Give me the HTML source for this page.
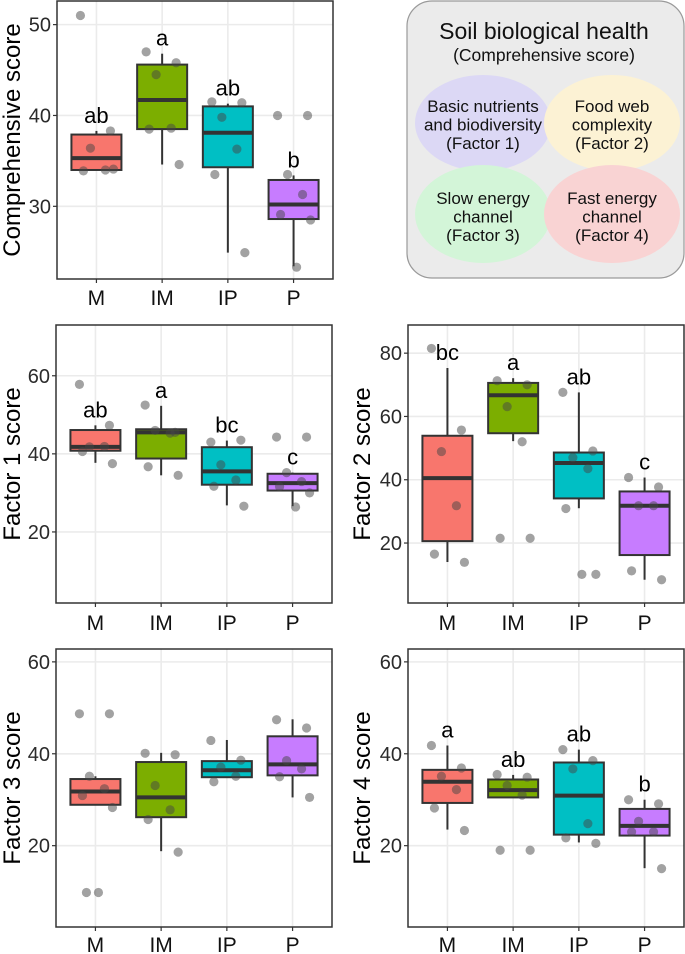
<!DOCTYPE html>
<html><head><meta charset="utf-8">
<style>
html,body{margin:0;padding:0;background:#fff;}
svg{display:block;font-family:"Liberation Sans",sans-serif;}
</style></head>
<body>
<svg id="fig" width="685" height="954" viewBox="0 0 685 954" xmlns="http://www.w3.org/2000/svg">
  <g>
    <rect x="407" y="1" width="277" height="277" rx="25" fill="#ebebeb" stroke="#9a9a9a" stroke-width="1.2"/>
    <text x="544" y="39" font-size="23" text-anchor="middle" fill="#111">Soil biological health</text>
    <text x="544" y="61" font-size="17.5" text-anchor="middle" fill="#111">(Comprehensive score)</text>
    <ellipse cx="483" cy="123" rx="68" ry="48" fill="#dcd8f5"/>
    <ellipse cx="612" cy="123" rx="68" ry="48" fill="#fcf2d4"/>
    <ellipse cx="483" cy="214" rx="68" ry="49" fill="#d3f5d8"/>
    <ellipse cx="612" cy="214" rx="68" ry="49" fill="#f9d3d3"/>
    <g font-size="17" text-anchor="middle" fill="#111">
      <text x="483" y="112"><tspan x="483">Basic nutrients</tspan><tspan x="483" dy="18.5">and biodiversity</tspan><tspan x="483" dy="18.5">(Factor 1)</tspan></text>
      <text x="612" y="112"><tspan x="612">Food web</tspan><tspan x="612" dy="18.5">complexity</tspan><tspan x="612" dy="18.5">(Factor 2)</tspan></text>
      <text x="483" y="204"><tspan x="483">Slow energy</tspan><tspan x="483" dy="18.5">channel</tspan><tspan x="483" dy="18.5">(Factor 3)</tspan></text>
      <text x="612" y="204"><tspan x="612">Fast energy</tspan><tspan x="612" dy="18.5">channel</tspan><tspan x="612" dy="18.5">(Factor 4)</tspan></text>
    </g>
  </g>
</svg>
<script>
const categories = ["M","IM","IP","P"];
const colors = ["#F8766D","#7CAE00","#00BFC4","#C77CFF"];

// Comprehensive score: [lowerWhisker, q1, median, q3, upperWhisker]
const compStats = [[34.0,34.0,35.3,37.9,38.3],[34.6,38.5,41.7,45.6,46.8],[24.9,34.3,38.1,41.0,41.3],[23.4,28.6,30.2,32.9,33.4]];
const compPoints = [[51.0,38.3,36.4,34.0,33.9,34.1],[47.0,45.8,44.5,38.6,38.5,34.6],[41.5,41.4,39.8,36.3,33.5,24.9],[40.0,40.0,33.5,31.3,29.1,28.5,23.3]];
const compLetters = ["ab","a","ab","b"];
const compTicks = [30,40,50];

const f1Stats = [[37.7,40.8,41.8,46.1,47.3],[34.5,38.8,45.5,46.3,52.3],[26.8,32.1,35.5,41.7,43.4],[26.6,30.6,32.5,34.9,35.2]];
const f1Points = [[57.8,47.3,41.8,41.9,40.6,37.5],[52.5,45.5,46.0,45.3,36.7,34.5],[43.0,43.5,37.2,33.3,31.7,26.6],[44.3,44.3,35.2,32.9,31.6,30.0,26.4]];
const f1Letters = ["ab","a","bc","c"];
const f1Ticks = [20,40,60];

const f2Stats = [[14.0,20.6,40.5,53.9,75.3],[52.2,54.7,66.7,70.6,72.1],[31.0,34.1,45.3,48.6,67.6],[8.4,16.2,31.8,36.3,40.7]];
const f2Points = [[81.5,55.7,48.9,31.8,16.5,13.9],[71.3,70.0,63.1,52.0,21.5,21.5],[67.6,49.1,47.0,43.5,30.9,10.1,10.1],[40.7,37.7,31.8,31.8,11.2,8.4]];
const f2Letters = ["bc","a","ab","c"];
const f2Ticks = [20,40,60,80];

const f3Stats = [[28.9,28.9,31.8,34.5,35.1],[18.8,26.2,30.5,38.2,40.2],[34.9,34.9,36.4,38.4,43.0],[30.5,35.3,37.7,43.8,47.5]];
const f3Points = [[48.7,48.7,35.1,32.4,30.9,28.3,9.8,9.8],[40.1,39.8,33.1,27.8,25.7,18.6],[42.9,38.6,37.1,35.1,33.9],[47.4,45.6,38.5,36.7,35.0,30.5]];
const f3Letters = ["","","",""];
const f3Ticks = [20,40,60];

const f4Stats = [[23.5,29.3,33.9,36.5,41.8],[30.5,30.5,32.1,34.4,35.4],[20.7,22.4,30.9,38.1,40.9],[15.1,22.2,24.3,28.0,30.0]];
const f4Points = [[41.8,36.9,35.1,32.2,28.2,23.3],[35.5,34.9,33.1,31.0,19.0,19.0],[40.9,38.5,36.7,24.8,21.7,20.5],[30.0,29.1,25.3,23.0,23.0,15.0]];
const f4Letters = ["a","ab","ab","b"];
const f4Ticks = [20,40,60];

const NS = "http://www.w3.org/2000/svg";
const svg = document.getElementById("fig");
const jit = [-16,14,-6,9,-13,17,3,-9];

function mk(tag, attrs, parent){
  const e = document.createElementNS(NS, tag);
  for (const k in attrs) e.setAttribute(k, attrs[k]);
  parent.appendChild(e);
  return e;
}

function panel(cfg){
  const {id, x0, x1, y0, y1, vmin, vmax, stats, points, letters, ticks, title, titleX, labelY} = cfg;
  const g = mk("g", {}, svg);
  
  
  const yS = v => y1 - (v - vmin) / (vmax - vmin) * (y1 - y0);
  const step = (x1 - x0) / 4.2;
  const xS = i => x0 + step * (0.6 + i);
  mk("rect", {x:x0, y:y0, width:x1-x0, height:y1-y0, fill:"#fff"}, g);
  ticks.forEach(t => {
    const gl = mk("line", {x1:x0, x2:x1, y1:yS(t), y2:yS(t), stroke:"#ebebeb", "stroke-width":1.6}, g);
    
    
    mk("line", {x1:x0-4, x2:x0, y1:yS(t), y2:yS(t), stroke:"#333", "stroke-width":1.2}, g);
    const tl = mk("text", {x:x0-6, y:yS(t)+7, "font-size":20, "text-anchor":"end", fill:"#2b2b2b"}, g);
    tl.textContent = t;
    
    
  });
  categories.forEach((c, i) => {
    const gl = mk("line", {x1:xS(i), x2:xS(i), y1:y0, y2:y1, stroke:"#ebebeb", "stroke-width":1.6}, g);
    
    
    mk("line", {x1:xS(i), x2:xS(i), y1:y1, y2:y1+4, stroke:"#333", "stroke-width":1.2}, g);
    const xl = mk("text", {x:xS(i), y:labelY, "font-size":21, "text-anchor":"middle", fill:"#111"}, g);
    xl.textContent = c;
    
    
  });
  categories.forEach((c, i) => {
    const s = stats[i], cx = xS(i), w = 50;
    const bg = mk("g", {}, g);
    
    
    mk("line", {x1:cx, x2:cx, y1:yS(s[0]), y2:yS(s[1]), stroke:"#333", "stroke-width":2}, bg);
    mk("line", {x1:cx, x2:cx, y1:yS(s[3]), y2:yS(s[4]), stroke:"#333", "stroke-width":2}, bg);
    mk("rect", {x:cx-w/2, y:yS(s[3]), width:w, height:yS(s[1])-yS(s[3]), fill:colors[i], stroke:"#333", "stroke-width":2}, bg);
    mk("line", {x1:cx-w/2, x2:cx+w/2, y1:yS(s[2]), y2:yS(s[2]), stroke:"#333", "stroke-width":4}, bg);
    points[i].forEach((v, j) => {
      const p = mk("circle", {cx:cx + jit[j % jit.length], cy:yS(v), r:4.6, fill:"rgba(70,70,70,0.5)"}, g);
      
      
    });
    if (letters[i]) {
      const lt = mk("text", {x:cx, y:yS(s[4]) - 8, "font-size":22, "text-anchor":"middle", fill:"#000"}, g);
      lt.textContent = letters[i];
      
      
    }
  });
  mk("rect", {x:x0, y:y0, width:x1-x0, height:y1-y0, fill:"none", stroke:"#333", "stroke-width":1.5}, g);
  const cy = (y0 + y1) / 2;
  const tt = mk("text", {x:titleX, y:cy, "font-size":24, "text-anchor":"middle", fill:"#000", transform:`rotate(-90 ${titleX} ${cy})`}, g);
  tt.textContent = title;
  
  
}

panel({id:"comprehensive", x0:57, x1:333, y0:1, y1:279, vmin:22.0, vmax:52.6, stats:compStats, points:compPoints, letters:compLetters, ticks:compTicks, title:"Comprehensive score", titleX:20, labelY:305});
panel({id:"factor1", x0:56, x1:332, y0:325, y1:603, vmin:1.8, vmax:73.0, stats:f1Stats, points:f1Points, letters:f1Letters, ticks:f1Ticks, title:"Factor 1 score", titleX:20, labelY:630});
panel({id:"factor2", x0:408, x1:684, y0:325, y1:603, vmin:1.05, vmax:88.9, stats:f2Stats, points:f2Points, letters:f2Letters, ticks:f2Ticks, title:"Factor 2 score", titleX:370, labelY:630});
panel({id:"factor3", x0:56, x1:332, y0:649, y1:927, vmin:2.3, vmax:62.8, stats:f3Stats, points:f3Points, letters:f3Letters, ticks:f3Ticks, title:"Factor 3 score", titleX:20, labelY:952});
panel({id:"factor4", x0:408, x1:684, y0:649, y1:927, vmin:2.3, vmax:62.8, stats:f4Stats, points:f4Points, letters:f4Letters, ticks:f4Ticks, title:"Factor 4 score", titleX:370, labelY:952});
</script>
</body></html>
